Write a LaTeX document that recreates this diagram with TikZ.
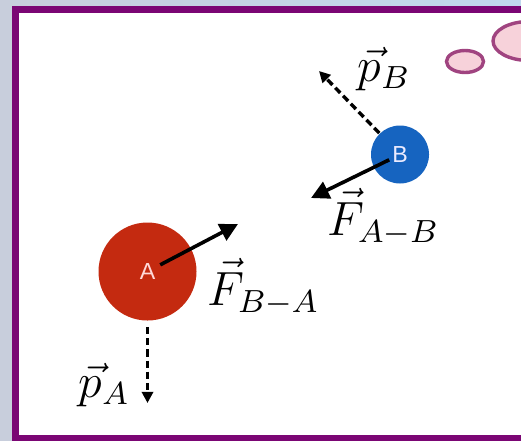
\documentclass[tikz,border=0pt]{standalone}
\usepackage{fontspec}
\usepackage{amsmath}
\usepackage{xcolor}
\usepackage{tikz}
\usetikzlibrary{positioning,arrows.meta,calc}
\newfontfamily\ballfont{Liberation Sans}
\definecolor{dFrame}{RGB}{123,6,116}
\definecolor{dBgL}{RGB}{200,206,220}
\definecolor{dBgR}{RGB}{192,216,238}
\definecolor{dRedBall}{RGB}{196,42,16}
\definecolor{dBlueBall}{RGB}{22,100,192}
\definecolor{dBubLine}{RGB}{160,68,128}
\definecolor{dBubFill}{RGB}{247,210,218}
\tikzset{
  ball/.style={circle, inner sep=0pt, font={\ballfont\fontsize{5.8}{6}\selectfont}},
  force/.style={-{Triangle[length=4.5pt,width=4.5pt]}, line width=0.9pt, draw=black},
  mom/.style={-{Triangle[length=2.8pt,width=2.8pt]}, line width=0.85pt, draw=black,
              dash pattern=on 1.8pt off 1pt},
  vlbl/.style={font=\large, inner sep=0pt, anchor=base west},
  bubble/.style={draw=dBubLine, fill=dBubFill, line width=0.85pt},
}
\begin{document}
\begin{tikzpicture}[x=0.25pt, y=-0.25pt]
  \useasboundingbox (0,0) rectangle (521,440);
  \clip (0,0) rectangle (521,440);
  % slide background and frame
  \shade[left color=dBgL, right color=dBgR] (0,0) rectangle (521,440);
  \draw[dFrame, fill=white, line width=1.75pt] (15.5,9.5) rectangle (540,438);

  % thought bubbles
  \draw[bubble] (465,61.5) ellipse [x radius=18.5, y radius=11];
  \draw[bubble] (529,41) ellipse [x radius=36, y radius=19.5];

  % bodies
  \node[ball, fill=dRedBall, text=red!15, minimum size=24.5pt] (A) at (147.5,271.5) {A};
  \node[ball, fill=dBlueBall, text=blue!8, minimum size=14.5pt] (B) at (400,154.5) {B};

  % arrow tips
  \coordinate (fa) at (238,224);
  \coordinate (fb) at (311,198);
  \coordinate (pa) at (147.5,403);
  \coordinate (pb) at (319,71);

  % forces
  \draw[force, shorten <=3.6pt] (A.center) -- (fa);
  \draw[force, shorten <=3pt] (B.center) -- (fb);

  % momenta
  \draw[mom, shorten <=1.4pt] (A) -- (pa);
  \draw[mom] (B) -- (pb);

  % labels
  \node[vlbl] (lfa) at (207,305) {$\vec{F}_{B-A}$};
  \node[vlbl] (lfb) at (327,235) {$\vec{F}_{A-B}$};
  \node[vlbl] (lpa) at (78,397) {$\vec{p}_A$};
  \node[vlbl] (lpb) at (357,81) {$\vec{p}_B$};
\end{tikzpicture}
\end{document}
